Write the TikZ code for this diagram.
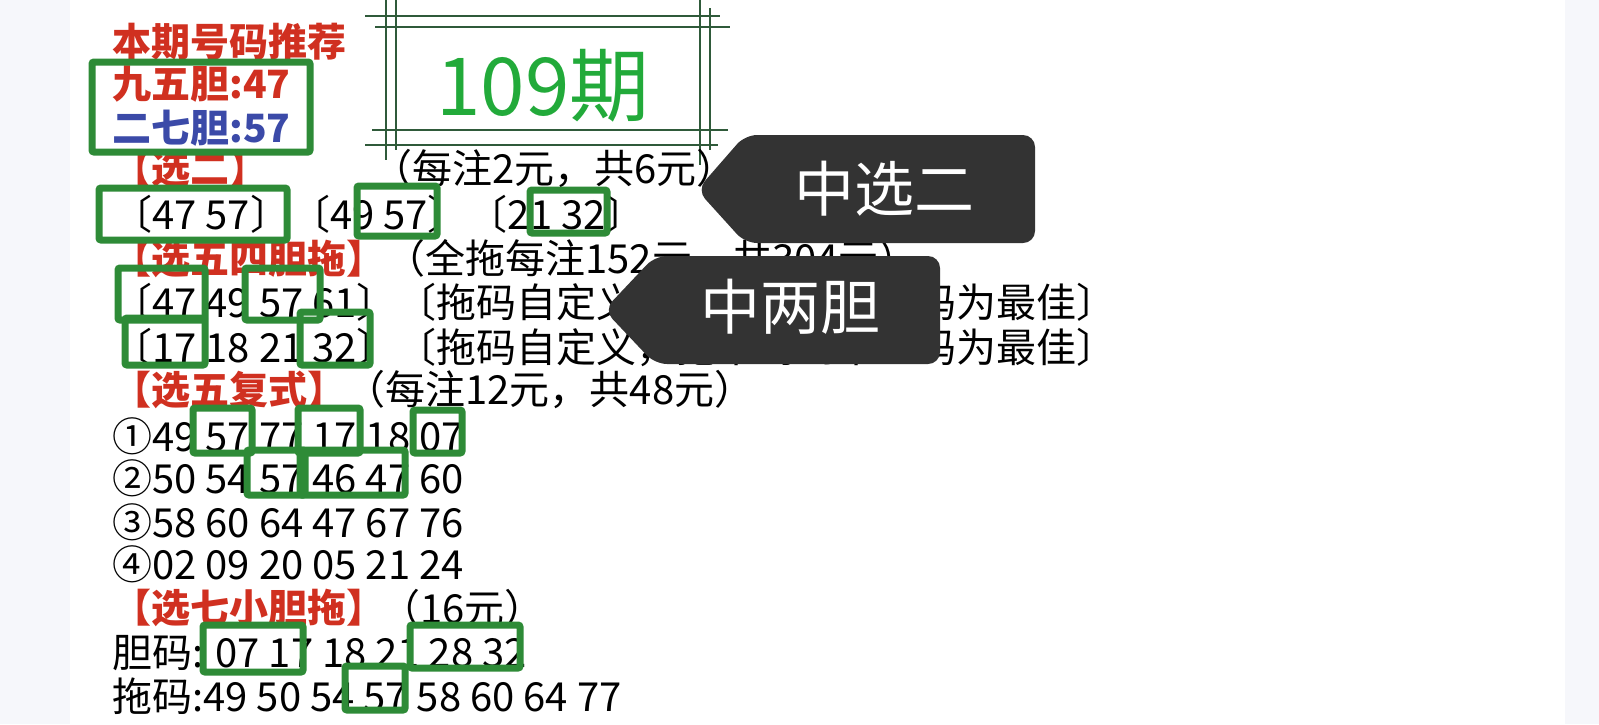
\documentclass[tikz,border=0pt]{standalone}
\usepackage{fontspec}
\setmainfont{Noto Sans CJK SC}
\usetikzlibrary{positioning}
\definecolor{hitgreen}{HTML}{2E8B37}
\definecolor{headred}{HTML}{D03020}
\definecolor{headblue}{HTML}{3B4AA8}
\definecolor{titlegreen}{HTML}{22AA3A}
\definecolor{frameline}{HTML}{2F5A3A}
\definecolor{tagdark}{HTML}{333333}
\definecolor{sidegray}{HTML}{F6F7FB}
\tikzset{%
  % Specifications for style of nodes:
        line/.style = {anchor=west, inner sep=0pt, yshift=-3pt, font=\fontsize{20}{22}\selectfont},
        head/.style = {line, font=\fontsize{19.5}{22}\selectfont\bfseries, text=headred},
         hit/.style = {draw=hitgreen, line width=3.5pt, rounded corners=1pt},
       frame/.style = {draw=frameline, line width=1.2pt},
         tag/.style = {fill=tagdark, rounded corners=6pt},
     tagtext/.style = {text=white, font=\fontsize{30}{32}\selectfont},
}
\begin{document}
\begin{tikzpicture}[x=0.5pt, y=-0.5pt]
  \useasboundingbox (0,0) rectangle (1599,724);
  \fill[sidegray] (0,0) rectangle (70,724);
  \fill[sidegray] (1565,0) rectangle (1599,724);

  % title frame
  \draw[frame] (365,16) -- (720,16);
  \draw[frame] (375,27) -- (730,27);
  \draw[frame] (372,130) -- (728,130);
  \draw[frame] (365,145) -- (718,145);
  \draw[frame] (386,0) -- (386,160);
  \draw[frame] (396,0) -- (396,150);
  \draw[frame] (700,0) -- (700,165);
  \draw[frame] (710,8) -- (710,150);
  \node (issue) [text=titlegreen, font=\fontsize{40}{44}\selectfont, yshift=-3pt] at (543,80) {109期};

  % text lines
  \node (t0)  [head] at (112,36)  {本期号码推荐};
  \node (t1)  [head] at (112,78)  {九五胆:47};
  \node (t2)  [head, text=headblue] at (112,122) {二七胆:57};
  \node (t3)  [head] at (112,163) {【选二】};
  \node (t3b) [line] at (372,163) {（每注2元，共6元）};
  \node (t4)  [line] at (112,208) {〔47 57〕〔49 57〕〔21 32〕};
  \node (t5)  [head] at (112,253) {【选五四胆拖】};
  \node (t5b) [line] at (385,253) {（全拖每注152元，共304元）};
  \node (t6)  [line] at (112,296) {〔47 49 57 61〕〔拖码自定义，拖十码到十五码为最佳〕};
  \node (t7)  [line] at (112,341) {〔17 18 21 32〕〔拖码自定义，拖十码到十五码为最佳〕};
  \node (t8)  [head] at (112,384) {【选五复式】};
  \node (t8b) [line] at (345,384) {（每注12元，共48元）};
  \node (t9)  [line] at (112,430) {①49 57 77 17 18 07};
  \node (t10) [line] at (112,472) {②50 54 57 46 47 60};
  \node (t11) [line] at (112,516) {③58 60 64 47 67 76};
  \node (t12) [line] at (112,558) {④02 09 20 05 21 24};
  \node (t13) [head] at (112,602) {【选七小胆拖】};
  \node (t13b)[line] at (380,602) {（16元）};
  \node (t14) [line] at (112,647) {胆码: 07 17 18 21 28 32};
  \node (t15) [line] at (112,690) {拖码:49 50 54 57 58 60 64 77};

  % hit boxes
  \draw[hit] (92,62) rectangle (310,152);
  \draw[hit] (99,188) rectangle (287,240);
  \draw[hit] (357,186) rectangle (437,236);
  \draw[hit] (530,190) rectangle (607,233);
  \draw[hit] (118,268) rectangle (205,320);
  \draw[hit] (245,268) rectangle (320,320);
  \draw[hit] (125,318) rectangle (205,365);
  \draw[hit] (300,312) rectangle (370,365);
  \draw[hit] (193,408) rectangle (252,453);
  \draw[hit] (298,408) rectangle (360,453);
  \draw[hit] (413,410) rectangle (462,453);
  \draw[hit] (247,450) rectangle (305,495);
  \draw[hit] (300,450) rectangle (405,495);
  \draw[hit] (203,625) rectangle (303,672);
  \draw[hit] (410,625) rectangle (520,668);
  \draw[hit] (345,666) rectangle (405,710);

  % callout tags
  \fill[tag] (1035,135) -- (1035,243) -- (745,243) -- (697,190) -- (745,135) -- cycle;
  \node (tag1) [tagtext] at (884,189) {中选二};
  \fill[tag] (940,256) -- (940,364) -- (655,364) -- (604,310) -- (655,256) -- cycle;
  \node (tag2) [tagtext] at (790,307) {中两胆};
\end{tikzpicture}
\end{document}
